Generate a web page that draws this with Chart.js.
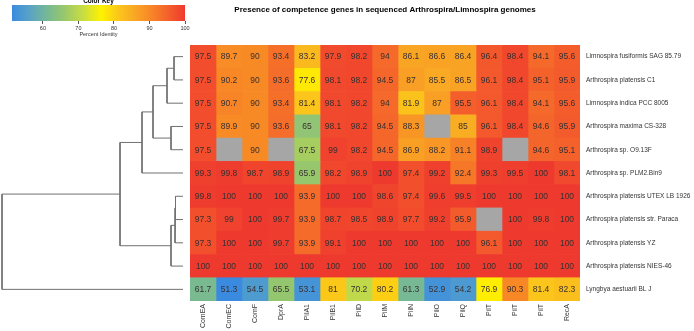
<!DOCTYPE html>
<html>
<head>
<meta charset="utf-8">
<script src="https://cdn.jsdelivr.net/npm/chart.js@4.4.1/dist/chart.umd.min.js"></script>
<style>
  html, body { margin: 0; padding: 0; background: #fff; }
  #wrap { position: relative; width: 694px; height: 331px; overflow: hidden; }
  canvas { position: absolute; left: 0; top: 0; }
</style>
</head>
<body>
<div id="wrap">
  <canvas id="dendro" width="190" height="331"></canvas>
  <canvas id="heat" width="694" height="331"></canvas>
  <canvas id="key" width="200" height="38"></canvas>
</div>
<script>
// gene columns and genome rows
const genes = ["ComEA", "ComEC", "ComF", "DprA", "PilA1", "PilB1", "PilD", "PilM", "PilN", "PilO", "PilQ", "PilT", "PilT", "PilT", "RecA"];
const genomes = [
    "Limnospira fusiformis SAG 85.79",
    "Arthrospira platensis C1",
    "Limnospira indica PCC 8005",
    "Arthrospira maxima CS-328",
    "Arthrospira sp. O9.13F",
    "Arthrospira sp. PLM2.Bin9",
    "Arthrospira platensis UTEX LB 1926",
    "Arthrospira platensis str. Paraca",
    "Arthrospira platensis YZ",
    "Arthrospira platensis NIES-46",
    "Lyngbya aestuarii BL J"
];

// percent identity, one row per genome (null = gene not found, grey)
const identity = [
    [97.5, 89.7, 90, 93.4, 83.2, 97.9, 98.2, 94, 86.1, 86.6, 86.4, 96.4, 98.4, 94.1, 95.6],
    [97.5, 90.2, 90, 93.6, 77.6, 98.1, 98.2, 94.5, 87, 85.5, 86.5, 96.1, 98.4, 95.1, 95.9],
    [97.5, 90.7, 90, 93.4, 81.4, 98.1, 98.2, 94, 81.9, 87, 95.5, 96.1, 98.4, 94.1, 95.6],
    [97.5, 89.9, 90, 93.6, 65, 98.1, 98.2, 94.5, 88.3, null, 85, 96.1, 98.4, 94.6, 95.9],
    [97.5, null, 90, null, 67.5, 99, 98.2, 94.5, 86.9, 88.2, 91.1, 98.9, null, 94.6, 95.1],
    [99.3, 99.8, 98.7, 98.9, 65.9, 98.2, 98.9, 100, 97.4, 99.2, 92.4, 99.3, 99.5, 100, 98.1],
    [99.8, 100, 100, 100, 93.9, 100, 100, 98.6, 97.4, 99.6, 99.5, 100, 100, 100, 100],
    [97.3, 99, 100, 99.7, 93.9, 98.7, 98.5, 98.9, 97.7, 99.2, 95.9, null, 100, 99.8, 100],
    [97.3, 100, 100, 99.7, 93.9, 99.1, 100, 100, 100, 100, 100, 96.1, 100, 100, 100],
    [100, 100, 100, 100, 100, 100, 100, 100, 100, 100, 100, 100, 100, 100, 100],
    [61.7, 51.3, 54.5, 65.5, 53.1, 81, 70.2, 80.2, 61.3, 52.9, 54.2, 76.9, 90.3, 81.4, 82.3]
];

// row clustering: [left, right, height]; negative = leaf (row number), positive = earlier merge
const merges = [
    [-1, -2, 9],
    [1, -3, 16],
    [-4, -5, 12],
    [2, 3, 30],
    [4, -6, 41],
    [-7, -8, 7.5],
    [6, -9, 8],
    [7, -10, 12],
    [5, 8, 63],
    [9, -11, 181]
];

// colour key
const keyMin = 51.3, keyMax = 100;
const keyTicks = [60, 70, 80, 90, 100];
const colorStops = [
    [51.3, "#3a8be0"], [56, "#58a2c8"], [62, "#7bbb8e"], [66, "#98c76c"],
    [71, "#c6dc45"], [76.5, "#fff200"], [81, "#fbc81a"], [86, "#f9a624"],
    [90, "#f88a26"], [94, "#f56a2a"], [97.5, "#f24e2d"], [100, "#ee3a2e"]
];
const missingColor = "#a6a6a6";

Chart.defaults.font.family = "'Liberation Sans', Arial, sans-serif";
Chart.defaults.animation = false;

function hexToRgb(h) {
    return [parseInt(h.slice(1, 3), 16), parseInt(h.slice(3, 5), 16), parseInt(h.slice(5, 7), 16)];
}

function colorFor(v) {
    if (v === null) return missingColor;
    for (let i = 1; i < colorStops.length; i++) {
        if (v <= colorStops[i][0]) {
            const [v0, c0] = colorStops[i - 1];
            const [v1, c1] = colorStops[i];
            const t = Math.max(0, (v - v0) / (v1 - v0));
            const a = hexToRgb(c0), b = hexToRgb(c1);
            const m = a.map((x, k) => Math.round(x + (b[k] - x) * t));
            return `rgb(${m[0]},${m[1]},${m[2]})`;
        }
    }
    return colorStops[colorStops.length - 1][1];
}

/* ---------- heatmap ---------- */
const cellText = {
    id: "cellText",
    afterDatasetsDraw(chart) {
        const c = chart.ctx;
        c.save();
        c.font = "8.5px 'Liberation Sans', Arial, sans-serif";
        c.fillStyle = "#3a3030";
        c.textAlign = "center";
        c.textBaseline = "middle";
        chart.data.datasets.forEach((ds, i) => {
            chart.getDatasetMeta(i).data.forEach((bar, j) => {
                const v = ds.values[j];
                if (v === null) return;
                c.fillText(String(v), (bar.x + bar.base) / 2, bar.y + 0.5);
            });
        });
        c.restore();
    },
    afterDraw(chart) {
        const c = chart.ctx;
        const a = chart.chartArea;
        c.save();
        c.font = "bold 8px 'Liberation Sans', Arial, sans-serif";
        c.fillStyle = "#000";
        c.textAlign = "center";
        c.textBaseline = "middle";
        c.fillText("Presence of competence genes in sequenced Arthrospira/Limnospira genomes", (a.left + a.right) / 2, 10);
        c.restore();
    }
};

const heatDatasets = genes.map((g, j) => ({
    label: g,
    data: genomes.map(() => 1),
    values: identity.map(r => r[j]),
    backgroundColor: identity.map(r => colorFor(r[j])),
    borderWidth: 0,
    barPercentage: 1,
    categoryPercentage: 1
}));

new Chart(document.getElementById("heat"), {
    type: "bar",
    data: { labels: genomes, datasets: heatDatasets },
    options: {
        responsive: false,
        indexAxis: "y",
        layout: { padding: { left: 190, top: 45, right: 0, bottom: 0 } },
        plugins: { legend: { display: false }, tooltip: { enabled: false } },
        scales: {
            x: { type: "linear", stacked: true, min: 0, max: genes.length, display: false },
            y: {
                type: "category", stacked: true, position: "right",
                grid: { display: false, drawTicks: false }, border: { display: false },
                ticks: { color: "#333", font: { size: 6.5 }, padding: 6, autoSkip: false },
                afterFit(s) { s.width = 114; }
            },
            xg: {
                type: "category", labels: genes, position: "bottom", offset: true,
                grid: { display: false, drawTicks: false }, border: { display: false },
                ticks: { color: "#333", font: { size: 7 }, padding: 3, minRotation: 90, maxRotation: 90, autoSkip: false },
                afterFit(s) { s.height = 30; }
            }
        }
    },
    plugins: [cellText]
});

/* ---------- dendrogram ---------- */
const nodeY = [], nodeH = [];
function nodePos(id) {
    return id < 0 ? { y: -id - 0.5, h: 0 } : { y: nodeY[id - 1], h: nodeH[id - 1] };
}
const dendroDatasets = merges.map(([a, b, h], k) => {
    const pa = nodePos(a), pb = nodePos(b);
    nodeY[k] = (pa.y + pb.y) / 2;
    nodeH[k] = h;
    return {
        data: [{ x: pa.h, y: pa.y }, { x: h, y: pa.y }, { x: h, y: pb.y }, { x: pb.h, y: pb.y }],
        showLine: true,
        borderColor: "#707070",
        borderWidth: 1,
        pointRadius: 0,
        fill: false,
        clip: false
    };
});

new Chart(document.getElementById("dendro"), {
    type: "scatter",
    data: { datasets: dendroDatasets },
    options: {
        responsive: false,
        layout: { padding: { left: 2, right: 7, top: 45, bottom: 30 } },
        plugins: { legend: { display: false }, tooltip: { enabled: false } },
        scales: {
            x: { type: "linear", min: 0, max: 181, reverse: true, display: false },
            y: { type: "linear", min: 0, max: genomes.length, reverse: true, display: false }
        }
    }
});

/* ---------- colour key ---------- */
const keyTitle = {
    id: "keyTitle",
    afterDraw(chart) {
        const c = chart.ctx;
        const a = chart.chartArea;
        c.save();
        c.font = "bold 6.5px 'Liberation Sans', Arial, sans-serif";
        c.fillStyle = "#000";
        c.textAlign = "center";
        c.textBaseline = "bottom";
        c.fillText("Color Key", (a.left + a.right) / 2, a.top - 0.5);
        c.restore();
    }
};

new Chart(document.getElementById("key"), {
    type: "bar",
    data: {
        labels: ["key"],
        datasets: [{
            data: [[keyMin, keyMax]],
            backgroundColor(ctx) {
                const ch = ctx.chart, a = ch.chartArea;
                if (!a) return null;
                const xs = ch.scales.x;
                const g = ch.ctx.createLinearGradient(a.left, 0, a.right, 0);
                colorStops.forEach(([v, col]) => {
                    g.addColorStop((xs.getPixelForValue(v) - a.left) / (a.right - a.left), col);
                });
                return g;
            },
            borderWidth: 0,
            barPercentage: 1,
            categoryPercentage: 1
        }]
    },
    options: {
        responsive: false,
        indexAxis: "y",
        layout: { padding: { left: 12, right: 15, top: 5, bottom: 0 } },
        plugins: { legend: { display: false }, tooltip: { enabled: false } },
        scales: {
            y: { display: false },
            x: {
                type: "linear", min: keyMin, max: keyMax,
                afterBuildTicks(s) { s.ticks = keyTicks.map(v => ({ value: v })); },
                grid: { drawOnChartArea: false, tickLength: 3, color: "#555" },
                border: { display: false },
                ticks: { color: "#333", font: { size: 5.5 }, padding: 1 },
                title: { display: true, text: "Percent Identity", color: "#333", font: { size: 5.5 }, padding: 0 },
                afterFit(s) { s.height = 17; }
            }
        }
    },
    plugins: [keyTitle]
});
</script>
</body>
</html>
